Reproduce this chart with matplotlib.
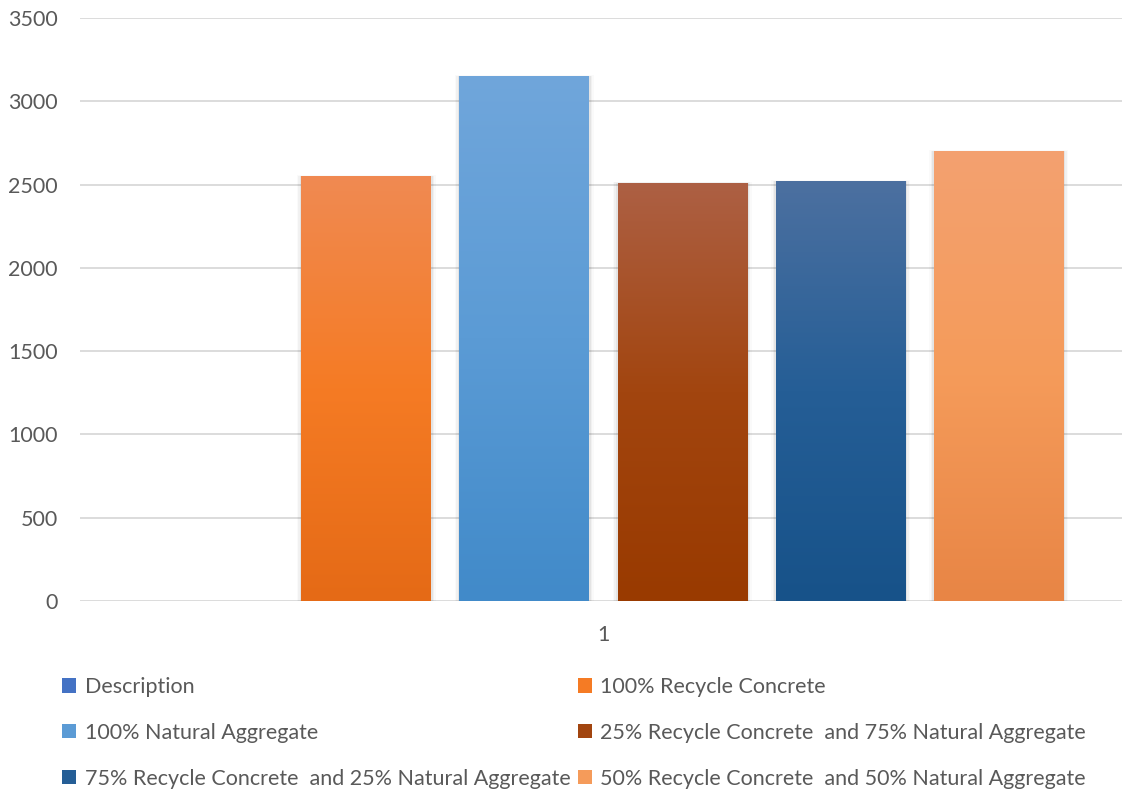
import numpy as np
import matplotlib.pyplot as plt
from matplotlib.colors import to_rgb
from matplotlib.patches import Patch

plt.rcParams['font.family'] = ['Lato', 'DejaVu Sans']

# series shown in the single category "1"
series = [
    "Description",
    "100% Recycle Concrete",
    "100% Natural Aggregate",
    "25% Recycle Concrete  and 75% Natural Aggregate",
    "75% Recycle Concrete  and 25% Natural Aggregate",
    "50% Recycle Concrete  and 50% Natural Aggregate",
]
values = [0, 2550, 3150, 2510, 2520, 2700]
category = "1"

# gradient stops (top, middle, bottom) per series
grads = [
    ("#6C8FD3", "#4472C4", "#2F5BAE"),
    ("#F08A52", "#F57B24", "#E56A16"),
    ("#70A6DB", "#5B9BD5", "#418AC9"),
    ("#AD6044", "#A2450F", "#993A00"),
    ("#4C70A0", "#255E96", "#175289"),
    ("#F3A170", "#F59B5A", "#E88545"),
]

fig = plt.figure(figsize=(11.33, 7.92), dpi=100)
ax = fig.add_axes([80 / 1133, 191 / 792, 1042 / 1133, 583 / 792])

n = len(series)
slot = 1.0
width = 0.82
offsets = (np.arange(n) - (n - 1) / 2) * slot


def gradient(c_top, c_mid, c_bot, steps=256):
    t = np.linspace(0, 1, steps)[:, None]
    a, b, c = (np.array(to_rgb(x)) for x in (c_top, c_mid, c_bot))
    top_half = a + (b - a) * np.clip(t * 2, 0, 1)
    col = np.where(t < 0.5, top_half, b + (c - b) * np.clip(t * 2 - 1, 0, 1))
    return col[:, None, :]


bars = ax.bar(offsets, values, width=width, color='none', edgecolor='none', zorder=3)
for rect, v, g in zip(bars, values, grads):
    if v <= 0:
        continue
    x0 = rect.get_x()
    # soft shadow behind each column
    for k, a in enumerate([0.05, 0.035, 0.02]):
        pad = 0.01 * (k + 1)
        ax.add_patch(plt.Rectangle((x0 - pad, -12 * (k + 1)), width + 2 * pad, v + 14 * (k + 1),
                                   facecolor='black', alpha=a, edgecolor='none', zorder=2))
    img = ax.imshow(gradient(*g), extent=[x0, x0 + width, 0, v], aspect='auto',
                    zorder=3, interpolation='bicubic')
    img.set_clip_path(rect)

ax.set_xlim(-3.31, 3.28)
ax.set_ylim(0, 3500)
ax.set_yticks(np.arange(0, 3501, 500))
ax.set_xticks([0])
ax.set_xticklabels([category])
ax.yaxis.grid(True, color='#D9D9D9', linewidth=1.3, zorder=0)
ax.set_axisbelow(True)
for s in ax.spines.values():
    s.set_visible(False)
ax.tick_params(length=0, labelsize=15.5, colors='#595959')
ax.tick_params(axis='y', pad=16)
ax.tick_params(axis='x', pad=17)

# legend filled row by row in two columns
handles = [Patch(facecolor=g[1], edgecolor='none') for g in grads]
order = [0, 2, 4, 1, 3, 5]
fig.legend([handles[i] for i in order], [series[i] for i in order],
           ncol=2, loc='upper left', bbox_to_anchor=(62 / 1133, 1 - 677 / 792),
           frameon=False, fontsize=15.5, labelcolor='#595959',
           borderpad=0, borderaxespad=0,
           handlelength=0.65, handleheight=0.65, handletextpad=0.4,
           columnspacing=0.35, labelspacing=1.2)

fig.savefig("out.png", dpi=100)
